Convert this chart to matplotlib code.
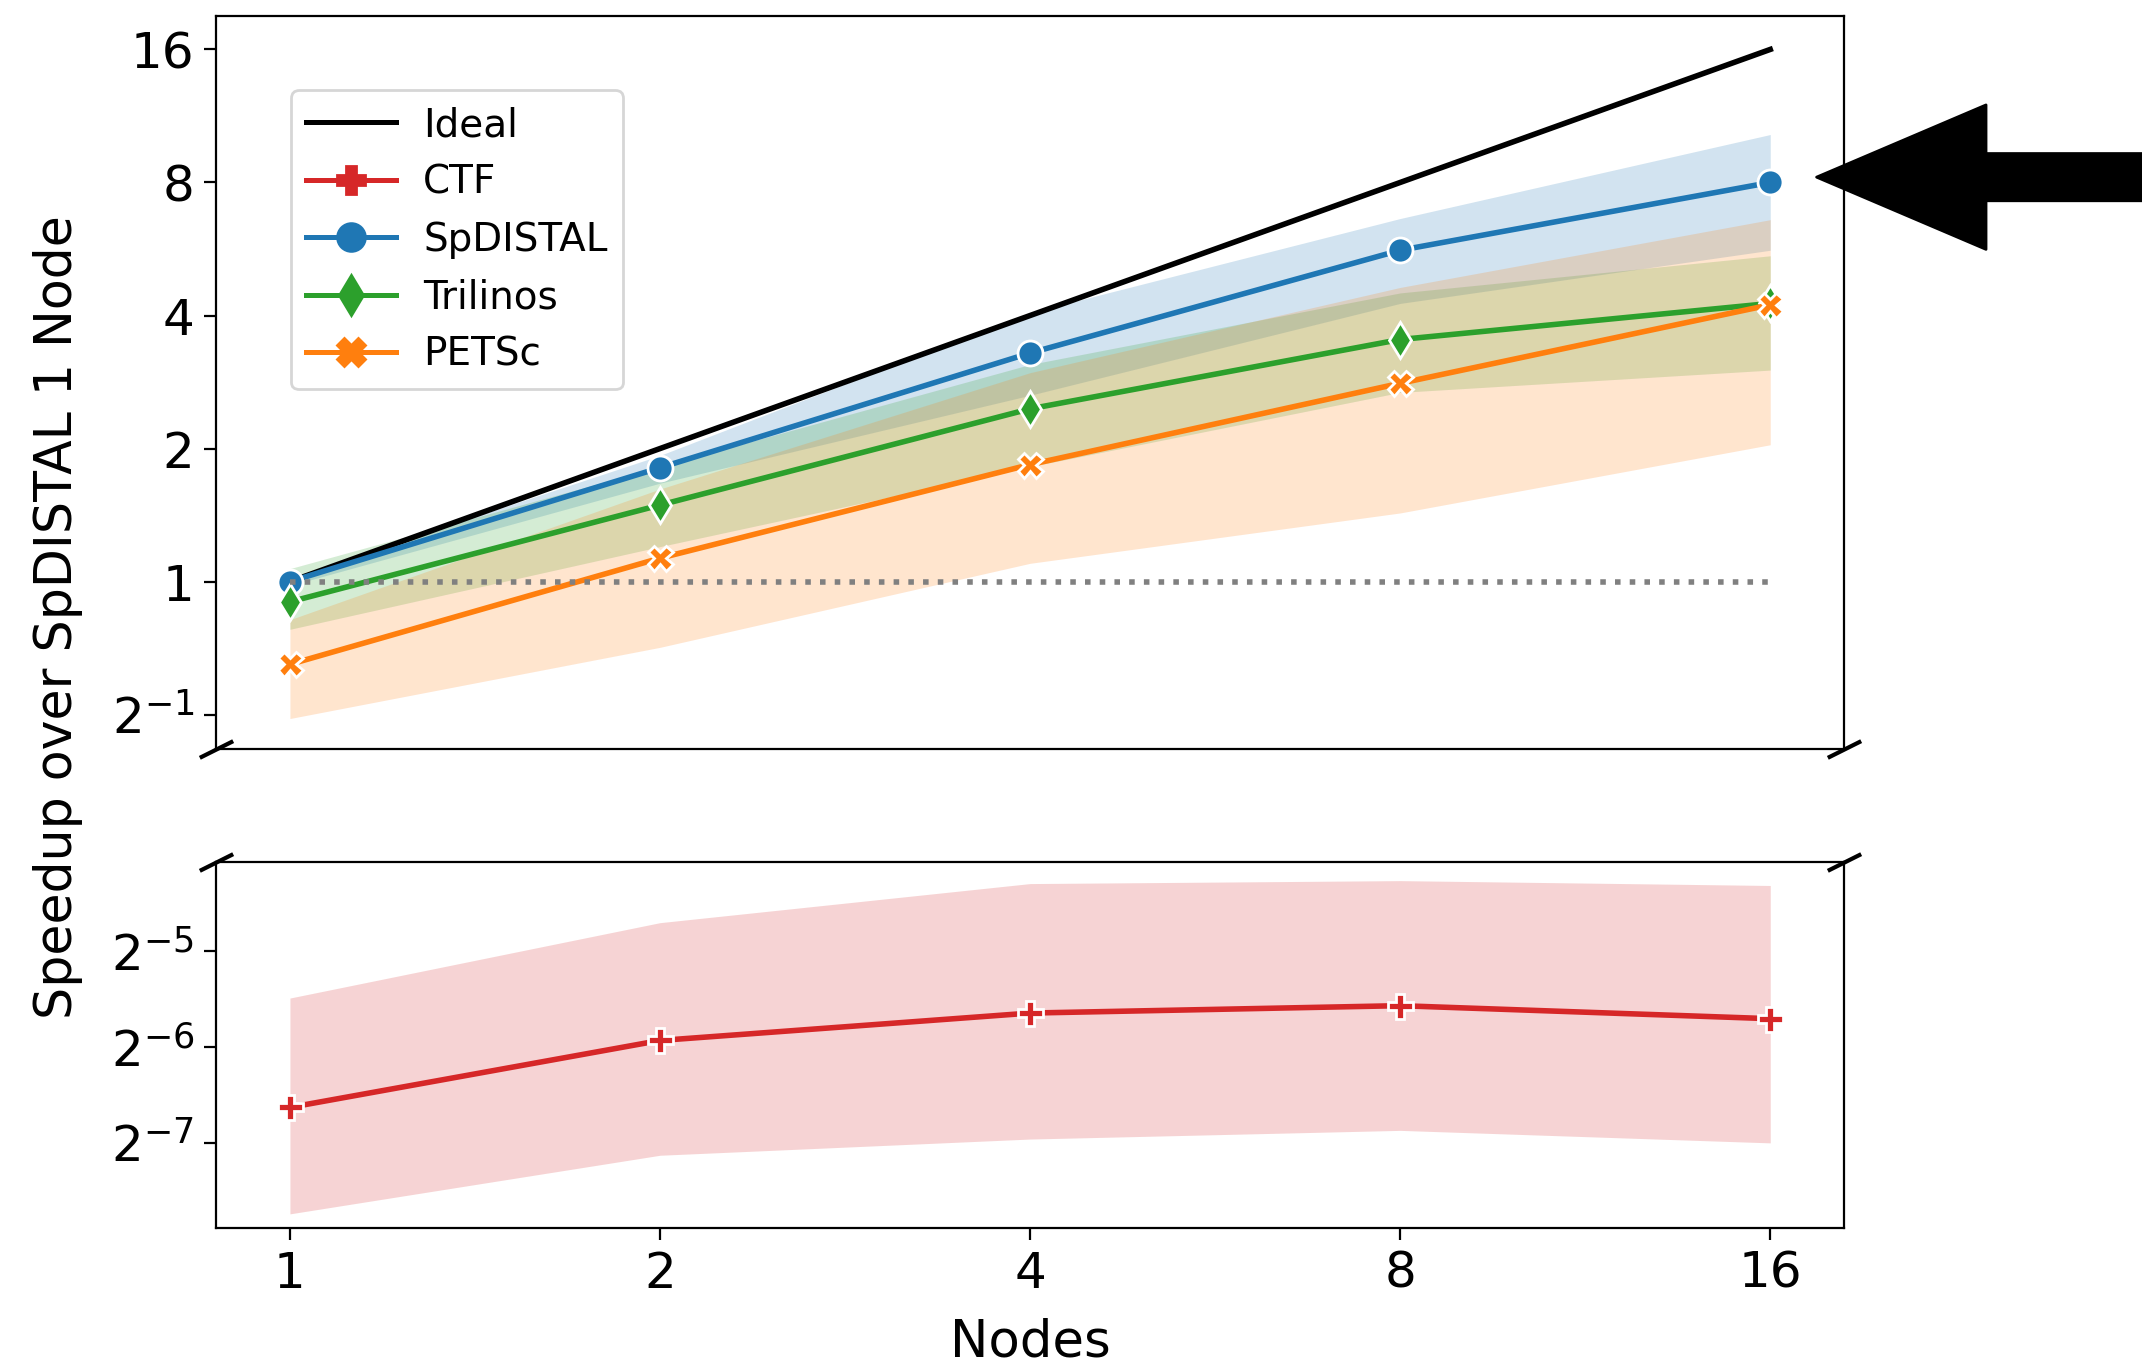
import matplotlib
matplotlib.use('Agg')
import matplotlib.pyplot as plt
from matplotlib.lines import Line2D
from matplotlib.ticker import NullLocator

plt.rcParams['font.size'] = 14

nodes = [1, 2, 4, 8, 16]
ideal = [1, 2, 4, 8, 16]

spdistal = [1.0, 1.81, 3.29, 5.62, 8.0]
spdistal_lo = [0.98, 1.67, 2.64, 4.26, 5.62]
spdistal_hi = [1.02, 1.93, 4.06, 6.63, 10.27]

trilinos = [0.90, 1.49, 2.46, 3.53, 4.26]
trilinos_lo = [0.78, 1.20, 1.82, 2.68, 3.01]
trilinos_hi = [1.07, 1.82, 3.10, 4.50, 5.46]

petsc = [0.65, 1.13, 1.84, 2.81, 4.23]
petsc_lo = [0.49, 0.71, 1.10, 1.43, 2.04]
petsc_hi = [0.82, 1.62, 2.97, 4.63, 6.59]

ctf = [0.0101, 0.0164, 0.0200, 0.0211, 0.0192]
ctf_lo = [0.00467, 0.00714, 0.00803, 0.00855, 0.00781]
ctf_hi = [0.0223, 0.0385, 0.0511, 0.0522, 0.0504]

top_ticks = [0.5, 1, 2, 4, 8, 16]
top_labels = ['$2^{-1}$', '1', '2', '4', '8', '16']
bot_ticks = [2**-7, 2**-6, 2**-5]
bot_labels = ['$2^{-7}$', '$2^{-6}$', '$2^{-5}$']

series_names = ['CTF', 'SpDISTAL', 'Trilinos', 'PETSc']
series_colors = ['#d62728', '#1f77b4', '#2ca02c', '#ff7f0e']
series_markers = ['P', 'o', 'd', 'X']

fig, (ax1, ax2) = plt.subplots(2, 1, sharex=True, figsize=(10.71, 6.845),
                               gridspec_kw={'height_ratios': [2, 1]})
fig.subplots_adjust(left=0.1008, right=0.861, top=0.988, bottom=0.103, hspace=0.204)

mk = dict(markersize=9, markeredgecolor='white', markeredgewidth=1.0, linewidth=2)

# top panel
ax1.plot(nodes, ideal, color='black', linewidth=2)
ax1.fill_between(nodes, spdistal_lo, spdistal_hi, color='#1f77b4', alpha=0.2, linewidth=0)
ax1.plot(nodes, spdistal, color='#1f77b4', marker='o', **mk)
ax1.fill_between(nodes, trilinos_lo, trilinos_hi, color='#2ca02c', alpha=0.2, linewidth=0)
ax1.plot(nodes, trilinos, color='#2ca02c', marker='d', **mk)
ax1.fill_between(nodes, petsc_lo, petsc_hi, color='#ff7f0e', alpha=0.2, linewidth=0)
ax1.plot(nodes, petsc, color='#ff7f0e', marker='X', **mk)
ax1.hlines(1, nodes[0], nodes[-1], color='gray', linestyles=':', linewidth=2)

# bottom panel
ax2.fill_between(nodes, ctf_lo, ctf_hi, color='#d62728', alpha=0.2, linewidth=0)
ax2.plot(nodes, ctf, color='#d62728', marker='P', **mk)

for ax in (ax1, ax2):
    ax.set_xscale('log', base=2)
    ax.set_yscale('log', base=2)
    ax.yaxis.set_minor_locator(NullLocator())
    ax.xaxis.set_minor_locator(NullLocator())
    ax.tick_params(labelsize=18, length=4.3)

ax1.set_yticks(top_ticks, top_labels)
ax2.set_yticks(bot_ticks, bot_labels)
ax1.set_ylim(2**-1.261, 2**4.248)
ax2.set_ylim(2**-7.89, 2**-4.06)
ax2.set_xticks(nodes, [str(n) for n in nodes])
ax2.set_xlim(2**-0.2, 2**4.2)
ax1.tick_params(bottom=False, labelbottom=False)
ax2.set_xlabel('Nodes', fontsize=18.5, labelpad=7)

# broken axis marks
d = .5
kw = dict(marker=[(-1, -d), (1, d)], markersize=12, linestyle='none',
          color='k', mec='k', mew=1.5, clip_on=False)
ax1.plot([0, 1], [0, 0], transform=ax1.transAxes, **kw)
ax2.plot([0, 1], [1, 1], transform=ax2.transAxes, **kw)

fig.text(0.027, 0.549, 'Speedup over SpDISTAL 1 Node', rotation=90,
         ha='center', va='center', fontsize=18.2)

handles = [Line2D([], [], color='black', linewidth=1.8, label='Ideal')]
for name, c, m in zip(series_names, series_colors, series_markers):
    handles.append(Line2D([], [], color=c, marker=m, markersize=10,
                          linewidth=1.8, label=name))
ax1.legend(handles=handles, loc='upper left',
           bbox_to_anchor=(0.046, 0.899), borderaxespad=0, fontsize=14,
           handlelength=2.3, handletextpad=0.7)

ax1.annotate('', xy=(0.983, 2**3.04), xycoords=('axes fraction', 'data'),
             xytext=(1.3, 2**3.04), textcoords=('axes fraction', 'data'),
             arrowprops=dict(facecolor='black', edgecolor='black', width=17,
                             headwidth=52, headlength=61, shrink=0),
             annotation_clip=False)

fig.savefig('out.png', dpi=200)
